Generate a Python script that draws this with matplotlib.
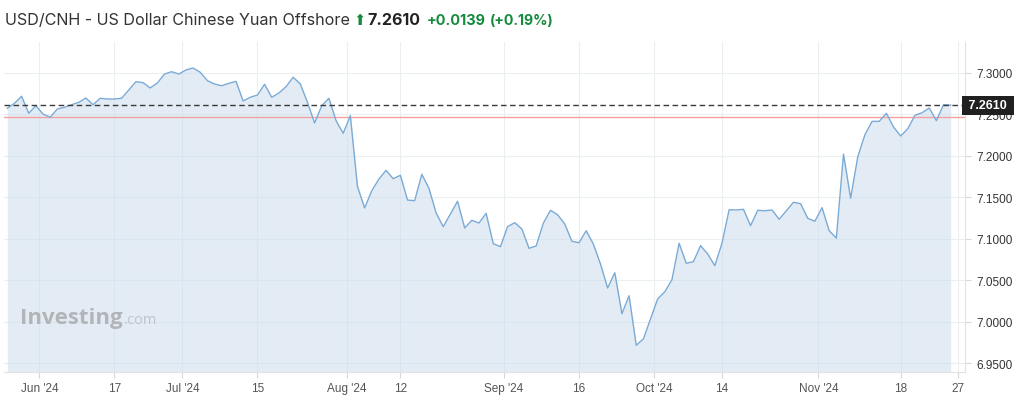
import matplotlib
matplotlib.use("Agg")
import matplotlib.pyplot as plt
import matplotlib.transforms as mtransforms

# header text
TITLE = "USD/CNH - US Dollar Chinese Yuan Offshore"
LAST_TXT = "7.2610"
CHANGE_TXT = "+0.0139"
CHANGE_PCT_TXT = "(+0.19%)"
LAST = 7.2610
PREV_CLOSE = 7.2471

# daily closes, late May .. late Nov 2024
prices = [
    7.2571, 7.2631, 7.2716, 7.2511, 7.2602, 7.2502, 7.2463, 7.2563, 7.2583, 7.2614,
    7.2643, 7.2695, 7.2614, 7.2692, 7.2683, 7.2683, 7.2692, 7.2792, 7.2892, 7.2880,
    7.2816, 7.2876, 7.2984, 7.3012, 7.2984, 7.3033, 7.3057, 7.3005, 7.2904, 7.2864,
    7.2843, 7.2872, 7.2896, 7.2659, 7.2704, 7.2731, 7.2860, 7.2704, 7.2755, 7.2831,
    7.2945, 7.2864, 7.2643, 7.2394, 7.2602, 7.2692, 7.2422, 7.2270, 7.2482, 7.1627,
    7.1370, 7.1578, 7.1719, 7.1824, 7.1723, 7.1764, 7.1466, 7.1458, 7.1776, 7.1607,
    7.1310, 7.1145, 7.1298, 7.1451, 7.1129, 7.1222, 7.1189, 7.1306, 7.0940, 7.0904,
    7.1145, 7.1193, 7.1117, 7.0884, 7.0912, 7.1186, 7.1342, 7.1289, 7.1177, 7.0969,
    7.0952, 7.1096, 7.0936, 7.0695, 7.0406, 7.0590, 7.0096, 7.0313, 6.9716, 6.9792,
    7.0033, 7.0274, 7.0361, 7.0506, 7.0945, 7.0704, 7.0723, 7.0916, 7.0816, 7.0675,
    7.0945, 7.1349, 7.1346, 7.1354, 7.1157, 7.1342, 7.1337, 7.1346, 7.1234, 7.1337,
    7.1439, 7.1422, 7.1246, 7.1210, 7.1374, 7.1096, 7.1008, 7.2020, 7.1487, 7.1988,
    7.2253, 7.2414, 7.2414, 7.2511, 7.2346, 7.2237, 7.2325, 7.2487, 7.2518, 7.2575,
    7.2422, 7.2614, 7.2610,
]

x_tick_labels = ["Jun '24", "17", "Jul '24", "15", "Aug '24", "12", "Sep '24",
                 "16", "Oct '24", "14", "Nov '24", "18", "27"]
x_tick_pos = [4.5, 15, 24.5, 35, 47.5, 55, 69.5, 80, 90.5, 100, 113.5, 125, 133]
y_ticks = [6.95, 7.00, 7.05, 7.10, 7.15, 7.20, 7.25, 7.30]

W, H = 1024, 402
LINE = "#7aaad6"
GREEN = "#138a3c"
GRID = "#eceff2"
TICKFONT = ["Liberation Sans", "DejaVu Sans"]

fig = plt.figure(figsize=(W / 100, H / 100), dpi=100)
ax = fig.add_axes([4 / W, (H - 373) / H, (965 - 4) / W, (373 - 43) / H])

x = list(range(len(prices)))
ymin, ymax = 6.9394, 7.337
ax.set_xlim(-0.46, 134.0)
ax.set_ylim(ymin, ymax)

for yv in y_ticks:
    ax.axhline(yv, color=GRID, lw=0.8, zorder=0)
for xv in x_tick_pos:
    ax.axvline(xv, color=GRID, lw=0.8, zorder=0)

ax.fill_between(x, prices, ymin, color="#c9dbec", alpha=0.5, lw=0, zorder=1)
ax.plot(x, prices, color=LINE, lw=1.0, zorder=3)

ax.axhline(PREV_CLOSE, color="#f5a0a0", lw=1.0, zorder=2)
ax.axhline(LAST, color="#3a3a3a", lw=1.0, dashes=(4, 2.5), zorder=4)

# last price badge on the right axis
trans = mtransforms.blended_transform_factory(ax.transAxes, ax.transData)
ax.text(1.0, LAST, " " + LAST_TXT + " ", transform=trans, ha="left", va="center",
        color="white", fontsize=9, fontweight="bold", family=TICKFONT,
        bbox=dict(boxstyle="square,pad=0.28", fc="#202020", ec="none"),
        zorder=6, clip_on=False)

ax.yaxis.tick_right()
ax.set_yticks(y_ticks)
ax.set_yticklabels([f"{v:.4f}" for v in y_ticks], family=TICKFONT)
ax.set_xticks(x_tick_pos)
ax.set_xticklabels(x_tick_labels, family=TICKFONT)
ax.tick_params(axis="y", length=4, width=0.8, color="#d6d6d6",
               labelcolor="#333333", labelsize=8.5, pad=4)
ax.tick_params(axis="x", length=4, width=0.8, color="#d6d6d6",
               labelcolor="#555555", labelsize=8.5, pad=3)
for s in ("top", "left"):
    ax.spines[s].set_visible(False)
for s in ("right", "bottom"):
    ax.spines[s].set_color("#e2e2e2")
    ax.spines[s].set_linewidth(0.8)

fig.canvas.draw()
r = fig.canvas.get_renderer()


def put(x_px, y_px, s, **kw):
    t = fig.text(x_px / W, (H - y_px) / H, s, va="baseline", **kw)
    return t.get_window_extent(renderer=r).x1


# header row
base = 25
xr = put(5, base, TITLE, fontsize=11.6, family="Inter", color="#333333")
xr = put(xr + 3, base, "\u2b06", fontsize=10.5, family="DejaVu Sans", color=GREEN)
xr = put(xr + 2, base, LAST_TXT, fontsize=11.5, family="Inter",
         fontweight="bold", color="#222222")
xr = put(xr + 6, base, CHANGE_TXT, fontsize=10.4, family="Inter",
         fontweight="bold", color=GREEN)
put(xr + 5, base, CHANGE_PCT_TXT, fontsize=10.2, family="Inter",
    fontweight="bold", color=GREEN)

# watermark
xr = put(20, 324, "Investing", fontsize=16, family="Open Sans",
         fontweight="bold", color="#b2b5b8")
put(xr + 1, 324, ".com", fontsize=10.5, family="Open Sans", color="#c0c3c7")

fig.savefig("out.png", dpi=100)
